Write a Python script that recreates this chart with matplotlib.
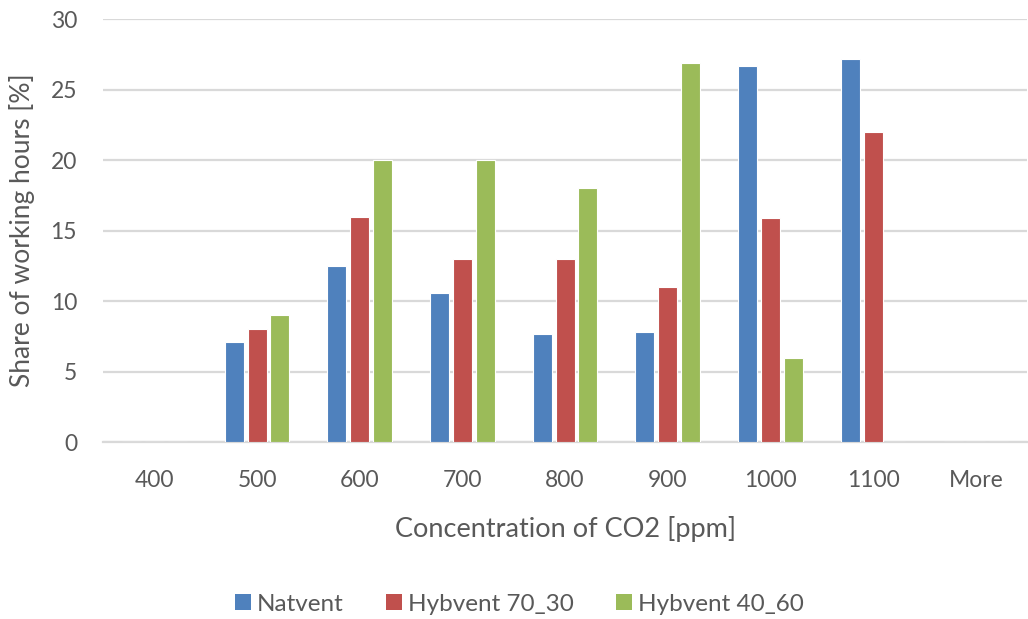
import matplotlib.pyplot as plt
import numpy as np
from matplotlib.patches import Patch

plt.rcParams['font.family'] = ['Lato', 'DejaVu Sans']

categories = ['400', '500', '600', '700', '800', '900', '1000', '1100', 'More']
natvent = [0, 7.1, 12.5, 10.6, 7.7, 7.8, 26.7, 27.2, 0]
hybvent_70_30 = [0, 8.0, 16.0, 13.0, 13.0, 11.0, 15.9, 22.0, 0]
hybvent_40_60 = [0, 9.0, 20.0, 20.0, 18.0, 26.9, 6.0, 0, 0]

series = [
    ('Natvent', natvent, '#4F81BD'),
    ('Hybvent 70_30', hybvent_70_30, '#C0504D'),
    ('Hybvent 40_60', hybvent_40_60, '#9BBB59'),
]

fig = plt.figure(figsize=(10.28, 6.19), dpi=100)
ax = fig.add_axes([0.1002, 0.2855, 0.899, 0.6838])

x = np.arange(len(categories))
step = 0.222
width = 0.185
text_color = '#595959'

for i, (name, vals, color) in enumerate(series):
    ax.bar(x + (i - 1) * step, vals, width=width, color=color,
           edgecolor='white', linewidth=0.8, label=name, zorder=3)

ax.set_xlim(-0.5, len(categories) - 0.5)
ax.set_ylim(0, 30)
ax.set_yticks(range(0, 31, 5))
ax.set_xticks(x)
ax.set_xticklabels(categories)
ax.yaxis.grid(True, color='#D9D9D9', linewidth=1.6, zorder=0)
ax.set_axisbelow(True)
for side in ['top', 'right', 'left']:
    ax.spines[side].set_visible(False)
ax.spines['bottom'].set_color('#D9D9D9')
ax.spines['bottom'].set_linewidth(1.6)
ax.tick_params(axis='both', length=0, labelsize=16.5, labelcolor=text_color)
ax.tick_params(axis='y', pad=18.7)
ax.tick_params(axis='x', pad=20)

ax.set_xlabel('Concentration of CO2 [ppm]', fontsize=19.5, color=text_color, labelpad=18)
ax.set_ylabel('Share of working hours [%]', fontsize=19, color=text_color, labelpad=11)

handles = [Patch(facecolor=c, edgecolor='none', label=n) for n, _, c in series]
fig.legend(handles=handles, loc='center', bbox_to_anchor=(0.505, 0.024),
           ncol=3, frameon=False, fontsize=17.5, labelcolor=text_color,
           handlelength=0.66, handleheight=0.66, handletextpad=0.25,
           columnspacing=1.73)

fig.savefig('out.png', dpi=100)
